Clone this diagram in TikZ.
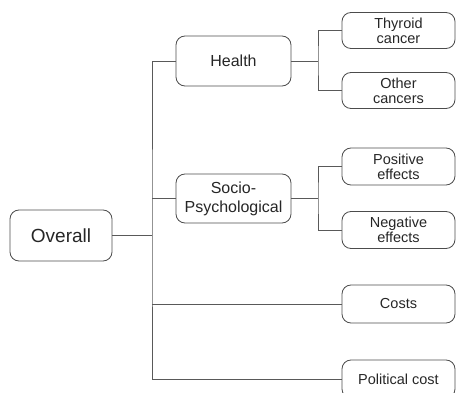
\documentclass[tikz,border=0pt]{standalone}
\usepackage{fontspec}
\setmainfont{Liberation Sans}
\begin{document}
\begin{tikzpicture}[x=1pt,y=-1pt,
  box/.style={draw=black!70, line width=0.8pt, rounded corners=9pt, inner sep=0pt, align=center, text=black!85},
  lbox/.style={box, minimum width=115pt, minimum height=50pt, font=\fontsize{16}{19}\selectfont},
  rbox/.style={box, minimum width=113pt, minimum height=37pt, font=\fontsize{14.5}{15}\selectfont},
  conn/.style={draw=black!65, line width=0.8pt}]
\useasboundingbox (0,0) rectangle (456,393);
\node[box, minimum width=102pt, minimum height=51pt, font=\fontsize{19}{22}\selectfont] (ov) at (61,235.5) {Overall};
\node[lbox] (h) at (233.5,61) {Health};
\node[lbox, minimum height=49pt] (soc) at (233.5,198.5) {Socio-\\Psychological};
\node[rbox, minimum height=36pt] (thy) at (398.5,30.5) {Thyroid\\cancer};
\node[rbox, minimum height=36pt] (oth) at (398.5,90.5) {Other\\cancers};
\node[rbox] (pos) at (398.5,166.5) {Positive\\effects};
\node[rbox] (neg) at (398.5,230) {Negative\\effects};
\node[rbox, minimum height=38pt] (cst) at (398.5,304) {Costs};
\node[rbox, minimum height=38pt] (pol) at (398.5,379) {Political cost};
\coordinate (tr) at (152,235.5);
\coordinate (hb) at (318,61);
\coordinate (sb) at (318,198);
\draw[conn] (ov.east) -- (tr);
\draw[conn] (h.west) -| (tr) |- (pol.west);
\draw[conn] (soc.west) -- (soc.west -| tr);
\draw[conn] (cst.west) -- (cst.west -| tr);
\draw[conn] (h.east) -- (hb);
\draw[conn] (thy.west) -| (hb) |- (oth.west);
\draw[conn] (soc.east |- sb) -- (sb);
\draw[conn] (pos.west) -| (sb) |- (neg.west);
\end{tikzpicture}
\end{document}
